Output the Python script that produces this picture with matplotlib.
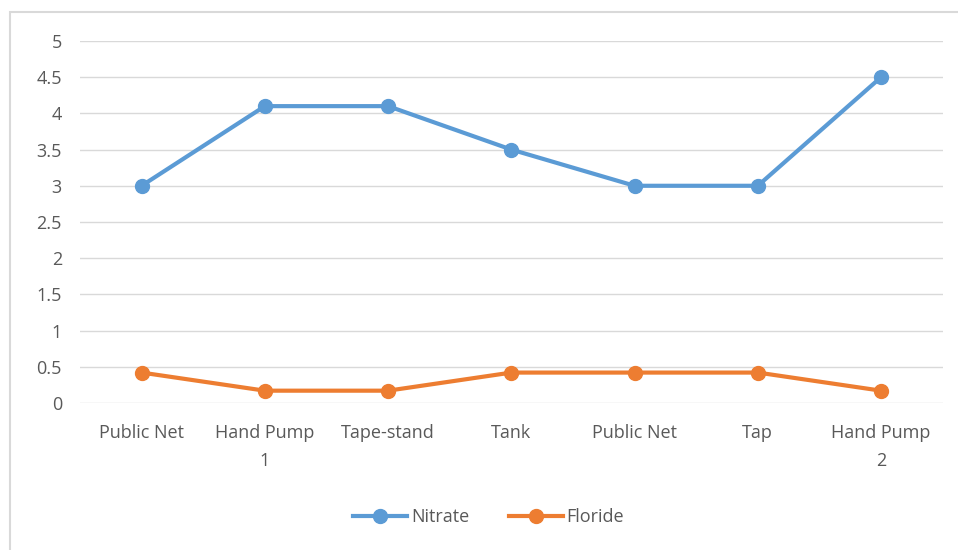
import matplotlib.pyplot as plt
from matplotlib.patches import Rectangle

plt.rcParams['font.family'] = ['Open Sans', 'DejaVu Sans']

sites = ["Public Net", "Hand Pump\n1", "Tape-stand", "Tank", "Public Net", "Tap", "Hand Pump\n2"]
nitrate = [3.0, 4.1, 4.1, 3.5, 3.0, 3.0, 4.5]
floride = [0.42, 0.17, 0.17, 0.42, 0.42, 0.42, 0.17]

grey = "#595959"

fig = plt.figure(figsize=(9.58, 5.5), dpi=100)
ax = fig.add_axes([0.0835, 0.2673, 0.9005, 0.6582])

# light chart border like Excel (right/bottom run off the picture)
fig.patches.append(Rectangle((10 / 958, -0.01), 1.0, 0.988, transform=fig.transFigure,
                             fill=False, edgecolor="#D9D9D9", linewidth=1.5))

x = range(len(sites))
ax.plot(x, nitrate, color="#5B9BD5", lw=3, marker="o", ms=10, label="Nitrate", zorder=3)
ax.plot(x, floride, color="#ED7D31", lw=3, marker="o", ms=10, label="Floride", zorder=3)

ax.set_xlim(-0.5, len(sites) - 0.5)
ax.set_ylim(0, 5)
ax.set_yticks([i * 0.5 for i in range(11)])
ax.set_yticklabels(["0", "0.5", "1", "1.5", "2", "2.5", "3", "3.5", "4", "4.5", "5"])
ax.set_xticks(list(x))
ax.set_xticklabels(sites, linespacing=1.7)
ax.tick_params(axis="both", length=0, labelsize=13, colors=grey)
ax.tick_params(axis="x", pad=15)
ax.tick_params(axis="y", pad=13)
ax.grid(axis="y", color="#D9D9D9", lw=1)
ax.set_axisbelow(True)
for s in ax.spines.values():
    s.set_visible(False)

leg = fig.legend(loc="center", bbox_to_anchor=(0.51, 0.06), ncol=2, frameon=False,
                 fontsize=13, handlelength=3, columnspacing=2.2, handletextpad=0.2)
for t in leg.get_texts():
    t.set_color(grey)

fig.savefig("out.png", dpi=100)
